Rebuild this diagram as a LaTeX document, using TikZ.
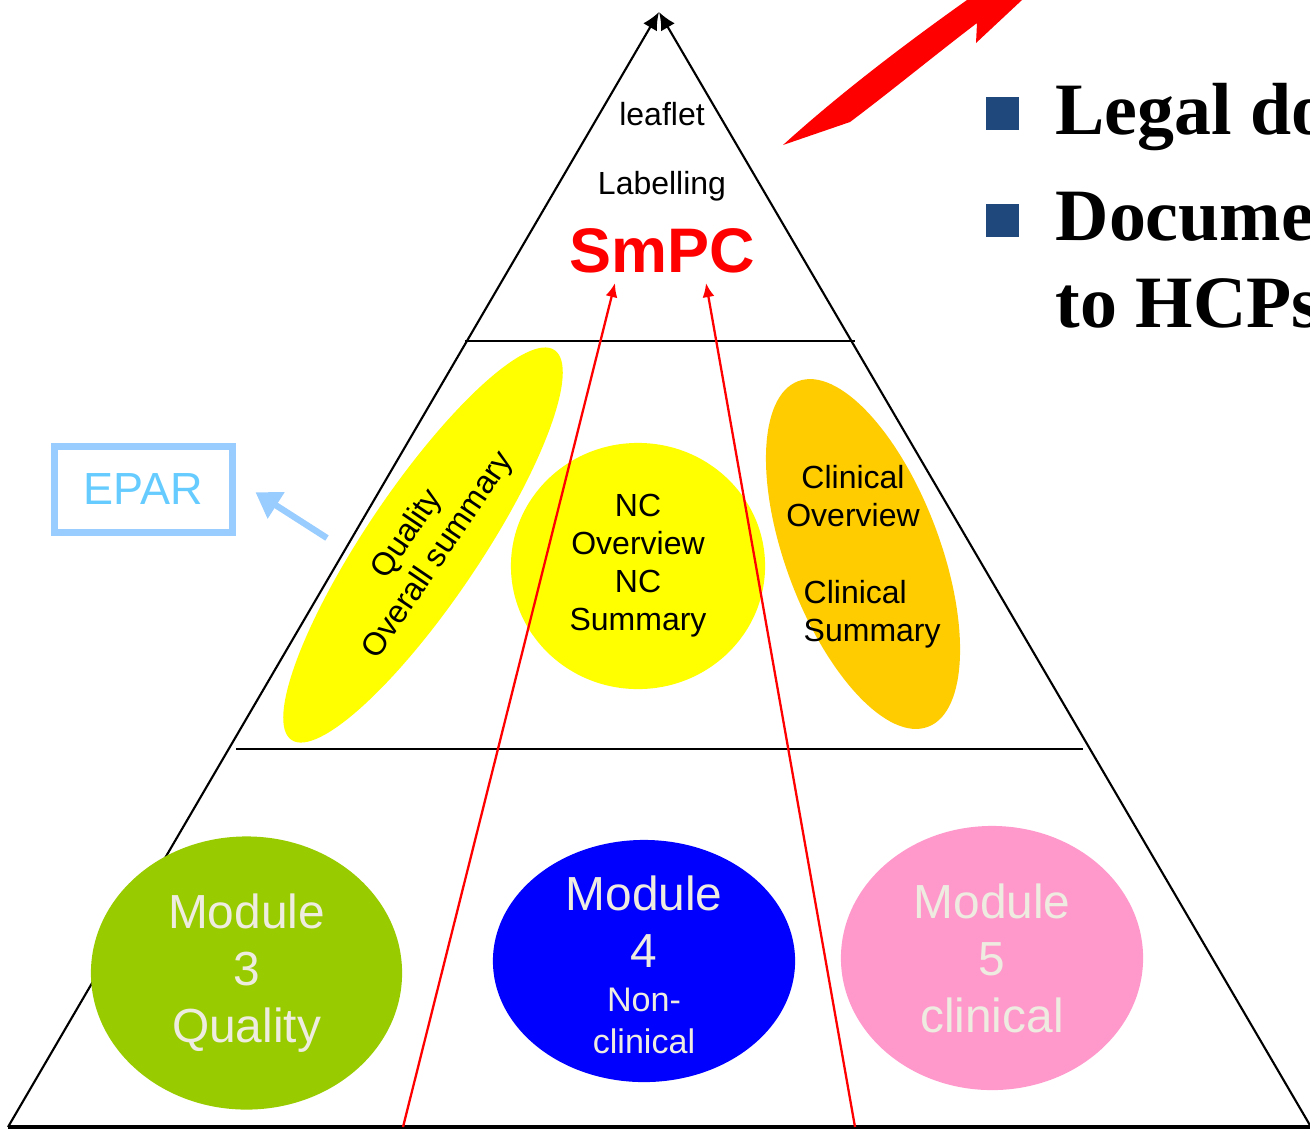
\documentclass[tikz,border=0pt]{standalone}
\usepackage{fontspec}
\setmainfont{Liberation Sans}
\newfontfamily\bulletserif{Liberation Serif}
\usetikzlibrary{arrows.meta,shapes.geometric}

\definecolor{qgreen}{HTML}{99CC00}
\definecolor{ncblue}{HTML}{0000FF}
\definecolor{clinpink}{HTML}{FF99CC}
\definecolor{offwhite}{HTML}{EEECE1}
\definecolor{clinorange}{HTML}{FFCC00}
\definecolor{eparline}{HTML}{99CCFF}
\definecolor{epartext}{HTML}{66CCFF}
\definecolor{bulletblue}{HTML}{1F497D}
\definecolor{qyellow}{HTML}{FFFF00}

\tikzset{
  blob/.style={ellipse, inner sep=0pt},
  midtext/.style={font=\fontsize{9.1}{10.8}\selectfont, align=center},
  modtext/.style={text=offwhite, font=\fontsize{13.6}{16.2}\selectfont, align=center},
  redline/.style={red, line width=0.65pt, -{Latex[length=4pt,width=3.4pt]}},
  bigtext/.style={font=\bulletserif\bfseries\fontsize{21}{24}\selectfont, anchor=base west, inner sep=0pt},
}

\begin{document}
\begin{tikzpicture}[x=0.01cm, y=-0.01cm]
  \clip (0,0) rectangle (1310,1136);

  % pyramid
  \coordinate (apex) at (659,12);
  \coordinate (bl) at (8,1127);
  \coordinate (br) at (1311,1127);
  \draw[line width=0.9pt] (bl) -- (br);
  \draw[line width=0.6pt, -{Latex[length=5pt,width=4.5pt]}] (bl) -- (apex);
  \draw[line width=0.6pt, -{Latex[length=5pt,width=4.5pt]}] (br) -- (apex);
  \draw[line width=0.6pt] (465,341) -- (855,341);
  \draw[line width=0.6pt] (236,749) -- (1083,749);

  % top level
  \node[font=\fontsize{9.1}{10.8}\selectfont, anchor=base] (leaflet) at (662,125) {leaflet};
  \node[font=\fontsize{9.1}{10.8}\selectfont, anchor=base] (labelling) at (662,194) {Labelling};
  \node[font=\bfseries\fontsize{17.9}{20}\selectfont, text=red, anchor=base] (smpc) at (662,272) {SmPC};

  % summaries
  \node[blob, fill=qyellow, minimum width=4.7cm, minimum height=1.14cm, rotate=56, midtext] (qos) at (423,545) {Quality\\Overall summary};
  \node[blob, fill=qyellow, minimum width=2.54cm, minimum height=2.46cm, midtext] (nc) at (638,566) {NC\\Overview\\NC\\Summary};
  \node[blob, fill=clinorange, minimum width=1.54cm, minimum height=3.69cm, rotate=20.6] (clin) at (863,554) {};
  \node[midtext] (clinov) at (853,496) {Clinical\\Overview};
  \node[midtext, align=left, anchor=west, inner sep=0pt] (clinsum) at (803,614) {Clinical\\Summary};

  % modules
  \node[blob, fill=qgreen, minimum width=3.11cm, minimum height=2.73cm, modtext] (m3) at (246.5,973) {Module\\3\\Quality};
  \node[blob, fill=ncblue, minimum width=3.02cm, minimum height=2.42cm] (m4) at (644,961) {};
  \node[modtext] (m4top) at (644,922) {Module\\4};
  \node[modtext, font=\fontsize{9.7}{12}\selectfont] (m4sub) at (644,1021) {Non-\\clinical};
  \node[blob, fill=clinpink, minimum width=3.02cm, minimum height=2.64cm, modtext] (m5) at (992,958) {Module\\5\\clinical};

  % red lines up to the SmPC
  \coordinate (ra) at (403,1127);
  \coordinate (rb) at (855,1127);
  \coordinate (sa) at (615,283);
  \coordinate (sb) at (706,283);
  \draw[redline] (ra) -- (sa);
  \draw[redline] (rb) -- (sb);

  % EPAR
  \node[draw=eparline, line width=2pt, text=epartext, minimum width=1.78cm, minimum height=0.86cm, font=\fontsize{12.8}{15}\selectfont] (epar) at (143.5,489.5) {EPAR};
  \coordinate (eparfrom) at (327,538);
  \draw[eparline, line width=1.8pt, -{Triangle[length=7pt,width=8.5pt]}, shorten >=0.23cm] (eparfrom) -- (epar.6);

  % red block arrow
  \fill[red] (783,145) -- (850,122) .. controls (890,92) and (935,55) .. (977,23)
    -- (976,43) -- (1022,0) -- (1045,-30) -- (985,-30) -- (967,0)
    .. controls (922,32) and (848,86) .. (783,145) -- cycle;

  % bullets
  \node[fill=bulletblue, minimum size=0.33cm, inner sep=0pt] (b1) at (1002.5,113.5) {};
  \node[fill=bulletblue, minimum size=0.33cm, inner sep=0pt] (b2) at (1002.5,220.5) {};
  \node[bigtext] (legal) at (1055,134) {Legal do};
  \node[bigtext] (docu) at (1055,240) {Docume};
  \node[bigtext] (hcps) at (1055,327) {to HCPs};
\end{tikzpicture}
\end{document}
